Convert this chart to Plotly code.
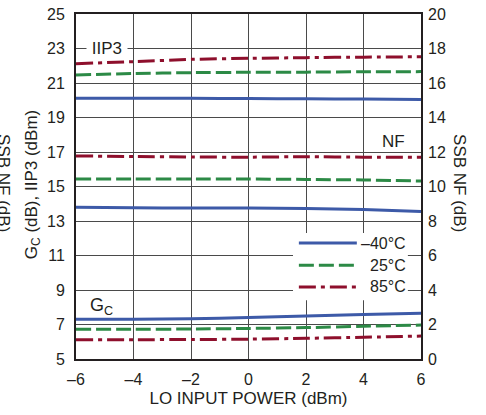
import plotly.graph_objects as go

lo_power = [-6, -4, -2, 0, 2, 4, 6]
temps = ["–40°C", "25°C", "85°C"]
colors = ["#3d5aa8", "#2c8a46", "#8e0f2c"]
dashes = ["solid", "15px,5px", "17px,5px,4px,5px"]

# IIP3 (dBm), left axis
iip3_m40 = [20.11, 20.12, 20.11, 20.10, 20.08, 20.07, 20.05]
iip3_25 = [21.47, 21.55, 21.60, 21.62, 21.63, 21.65, 21.66]
iip3_85 = [22.12, 22.24, 22.37, 22.43, 22.47, 22.50, 22.52]
# SSB NF (dB), right axis
nf_m40 = [8.79, 8.77, 8.75, 8.75, 8.72, 8.66, 8.55]
nf_25 = [10.43, 10.43, 10.43, 10.43, 10.41, 10.38, 10.32]
nf_85 = [11.77, 11.74, 11.71, 11.70, 11.73, 11.70, 11.69]
# Gc (dB), left axis
gc_m40 = [7.30, 7.30, 7.33, 7.40, 7.50, 7.58, 7.65]
gc_25 = [6.72, 6.72, 6.74, 6.77, 6.82, 6.90, 6.97]
gc_85 = [6.12, 6.12, 6.13, 6.15, 6.20, 6.26, 6.33]

left_ticks = [5, 7, 9, 11, 13, 15, 17, 19, 21, 23, 25]
right_ticks = [0, 2, 4, 6, 8, 10, 12, 14, 16, 18, 20]
x_ticks = [-6, -4, -2, 0, 2, 4, 6]
x_tick_text = ["–6", "–4", "–2", "0", "2", "4", "6"]

FONT = "Liberation Sans, Arial, sans-serif"
TXT = "#231f20"

fig = go.Figure()
groups = [
    ([iip3_m40, iip3_25, iip3_85], "y"),
    ([nf_m40, nf_25, nf_85], "y2"),
    ([gc_m40, gc_25, gc_85], "y"),
]
for series, yax in groups:
    for i, ys in enumerate(series):
        fig.add_trace(go.Scatter(
            x=lo_power, y=ys, yaxis=yax, mode="lines",
            line=dict(color=colors[i], width=3, dash=dashes[i], shape="spline", smoothing=0.6),
            showlegend=False, hoverinfo="skip"))

# manual legend
leg_y = [0.336, 0.272, 0.209]
shapes = [dict(type="rect", xref="paper", yref="paper", x0=0.629, x1=0.962, y0=0.17, y1=0.365,
               fillcolor="white", line=dict(width=0), layer="above")]
annotations = []
for i, t in enumerate(temps):
    shapes.append(dict(type="line", xref="paper", yref="paper", x0=0.646, x1=0.814,
                       y0=leg_y[i], y1=leg_y[i], layer="above",
                       line=dict(color=colors[i], width=3, dash=dashes[i])))
    annotations.append(dict(text=t, xref="paper", yref="paper", x=0.962, y=leg_y[i],
                            xanchor="right", yanchor="middle", showarrow=False,
                            font=dict(family=FONT, size=16, color=TXT)))

annotations += [
    dict(text="\u00a0IIP3\u00a0", x=-4.93, y=23, xref="x", yref="y", showarrow=False,
         bgcolor="white", borderpad=0, font=dict(family=FONT, size=17, color=TXT)),
    dict(text="NF", x=5.04, y=17.6, xref="x", yref="y", showarrow=False,
         font=dict(family=FONT, size=17, color=TXT)),
    dict(text="G<sub>C</sub>", x=-5.1, y=8.05, xref="x", yref="y", showarrow=False,
         font=dict(family=FONT, size=18, color=TXT)),
    dict(text="G<sub>C</sub> (dB), IIP3 (dBm)", x=-0.1246, y=0.504, xref="paper", yref="paper",
         xanchor="center", yanchor="middle",
         textangle=-90, showarrow=False, font=dict(family=FONT, size=17, color=TXT)),
    dict(text="SSB NF (dB)", x=-0.2087, y=0.51, xref="paper", yref="paper",
         xanchor="center", yanchor="middle",
         textangle=90, showarrow=False, font=dict(family=FONT, size=17, color=TXT)),
    dict(text="SSB NF (dB)", x=1.113, y=0.51, xref="paper", yref="paper",
         xanchor="center", yanchor="middle",
         textangle=90, showarrow=False, font=dict(family=FONT, size=17, color=TXT)),
]

fig.update_layout(
    width=486, height=415,
    margin=dict(l=76, r=65, t=14, b=56),
    paper_bgcolor="white", plot_bgcolor="white",
    showlegend=False,
    shapes=shapes, annotations=annotations,
    xaxis=dict(range=[-6, 6], tickvals=x_ticks, ticktext=x_tick_text, showgrid=True,
               gridcolor="#4a4a4a", gridwidth=1, zeroline=False, showline=True, linecolor=TXT,
               linewidth=2, mirror=True, ticks="", ticklabelstandoff=5, automargin=False,
               tickfont=dict(family=FONT, size=16, color=TXT),
               title=dict(text="LO INPUT POWER (dBm)", standoff=5,
                          font=dict(family=FONT, size=17, color=TXT))),
    yaxis=dict(range=[5, 25], tickvals=left_ticks, showgrid=True, gridcolor="#4a4a4a", gridwidth=1,
               zeroline=False, showline=True, linecolor=TXT, linewidth=2, mirror=True,
               automargin=False,
               ticks="", ticklabelstandoff=6, tickfont=dict(family=FONT, size=16, color=TXT)),
    yaxis2=dict(range=[0, 20], tickvals=right_ticks, overlaying="y", side="right", showgrid=False,
                zeroline=False, showline=False, ticks="", ticklabelstandoff=6, automargin=False,
                tickfont=dict(family=FONT, size=16, color=TXT)),
)

fig.write_html(
    "out.html",
    config={"displayModeBar": False},
    post_script="document.documentElement.style.margin='0';document.body.style.margin='0';"
                "document.body.style.padding='0';document.body.style.overflow='hidden';",
)
